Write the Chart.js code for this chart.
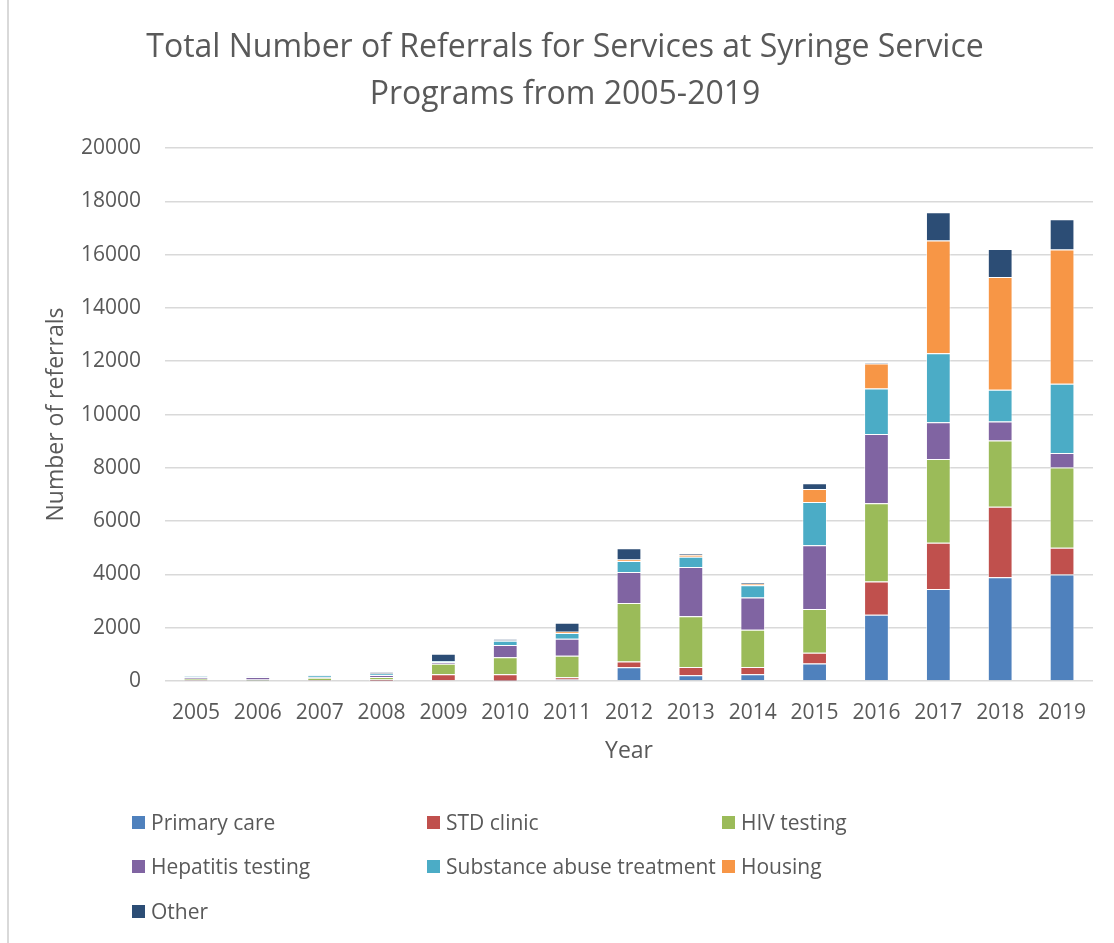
<!DOCTYPE html>
<html>
<head>
<meta charset="utf-8">
<script src="https://cdn.jsdelivr.net/npm/chart.js@4.4.1/dist/chart.umd.min.js"></script>
<style>
  html, body { margin: 0; padding: 0; background: #fff; }
  #wrap { position: relative; width: 1114px; height: 943px; overflow: hidden; font-family: "Open Sans", sans-serif; }
  #edge { position: absolute; left: 7px; top: 0; width: 2px; height: 943px; background: #d9d9d9; }
  #box { position: absolute; left: 0; top: 0; width: 1114px; height: 790px; }
  #legend { position: absolute; left: 0; top: 0; width: 1114px; height: 943px; pointer-events: none; }
  .item { position: absolute; display: flex; align-items: center; font-size: 21px; color: #595959; white-space: nowrap; }
  .item span.sw { width: 13px; height: 13px; margin-right: 6px; display: inline-block; }
</style>
</head>
<body>
<div id="wrap">
  <div id="box"><canvas id="chart"></canvas></div>
  <div id="edge"></div>
  <div id="legend"></div>
</div>
<script>
// data
const years = ['2005', '2006', '2007', '2008', '2009', '2010', '2011', '2012', '2013', '2014', '2015', '2016', '2017', '2018', '2019'];
const primaryCare      = [15, 10, 15, 10, 0, 10, 60, 520, 220, 250, 660, 2490, 3450, 3890, 4000];
const stdClinic        = [25, 10, 20, 50, 250, 240, 80, 210, 310, 280, 400, 1240, 1740, 2650, 1000];
const hivTesting       = [40, 40, 90, 90, 400, 640, 810, 2200, 1900, 1390, 1640, 2940, 3140, 2490, 3010];
const hepatitisTesting = [60, 90, 15, 75, 50, 460, 640, 1160, 1850, 1210, 2390, 2600, 1380, 710, 550];
const substanceAbuse   = [40, 10, 70, 50, 50, 160, 210, 410, 380, 460, 1630, 1710, 2590, 1190, 2600];
const housing          = [0, 0, 0, 10, 0, 10, 50, 60, 80, 60, 490, 940, 4230, 4230, 5030];
const other            = [10, 5, 5, 40, 275, 50, 340, 420, 45, 50, 210, 20, 1060, 1050, 1140];

const seriesNames = ['Primary care', 'STD clinic', 'HIV testing', 'Hepatitis testing', 'Substance abuse treatment', 'Housing', 'Other'];
const seriesData = [primaryCare, stdClinic, hivTesting, hepatitisTesting, substanceAbuse, housing, other];
const seriesColors = ['#4F81BD', '#C0504D', '#9BBB59', '#8064A2', '#4BACC6', '#F79646', '#2C4D75'];

const txt = '#595959';
const gridColor = '#d9d9d9';

const ctx = document.getElementById('chart');
new Chart(ctx, {
    type: 'bar',
    data: {
        labels: years,
        datasets: seriesNames.map((name, i) => ({
            label: name,
            data: seriesData[i],
            backgroundColor: seriesColors[i],
            borderColor: 'rgba(255,255,255,0.55)',
            borderWidth: 1,
            categoryPercentage: 0.4,
            barPercentage: 1
        }))
    },
    options: {
        responsive: true,
        maintainAspectRatio: false,
        animation: false,
        // left/right padding chosen so the title centre sits where Excel put it
        layout: { padding: { left: 37, right: 21, top: 0, bottom: 0 } },
        plugins: {
            legend: { display: false },
            tooltip: { enabled: false },
            title: {
                display: true,
                text: ['Total Number of Referrals for Services at Syringe Service', 'Programs from 2005-2019'],
                color: txt,
                font: { family: 'Open Sans', size: 32, weight: 'normal', lineHeight: 1.47 },
                padding: { top: 24, bottom: 30 }
            }
        },
        scales: {
            x: {
                stacked: true,
                grid: { display: false },
                border: { display: false },
                ticks: { color: txt, font: { family: 'Open Sans', size: 21 }, padding: 11, maxRotation: 0 },
                title: {
                    display: true, text: 'Year', color: txt,
                    font: { family: 'Open Sans', size: 23 },
                    padding: { top: 0, bottom: 25 }
                },
                afterFit: (s) => { s.height = 109; }
            },
            y: {
                stacked: true,
                min: 0, max: 20000,
                grid: { color: gridColor, lineWidth: 1.5, drawTicks: false },
                border: { display: false },
                ticks: {
                    stepSize: 2000, color: txt, font: { family: 'Open Sans', size: 21 }, padding: 24,
                    callback: (v) => String(v)
                },
                title: {
                    display: true, text: 'Number of referrals', color: txt,
                    font: { family: 'Open Sans', size: 23 },
                    padding: { top: 6, bottom: 0 }
                },
                afterFit: (s) => { s.width = 128; }
            }
        }
    }
});

// legend in the three-column grid used by the reference
const legend = document.getElementById('legend');
const colX = [132, 427, 722];
const rowY = [822, 866, 911];
seriesNames.forEach((name, i) => {
    const el = document.createElement('div');
    el.className = 'item';
    el.style.left = colX[i % 3] + 'px';
    el.style.top = (rowY[Math.floor(i / 3)] - 14) + 'px';
    el.style.height = '28px';
    el.innerHTML = '<span class="sw" style="background:' + seriesColors[i] + '"></span>' + name;
    legend.appendChild(el);
});
</script>
</body>
</html>
